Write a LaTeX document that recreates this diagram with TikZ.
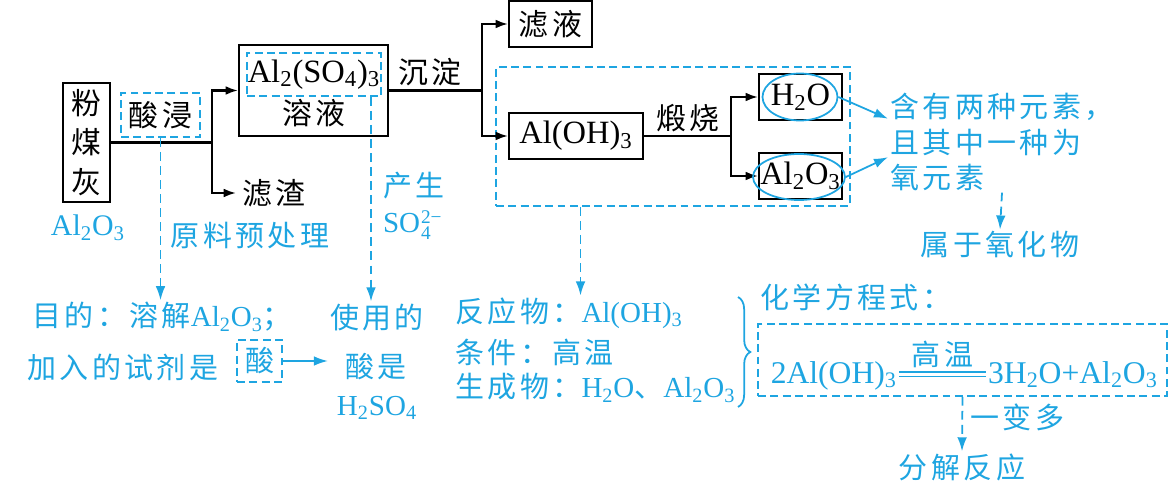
\documentclass[tikz,border=0pt]{standalone}
\usepackage{fontspec}
\setmainfont{Noto Sans CJK SC}[LetterSpace=12]
\newfontfamily\tms{Liberation Serif}
\usetikzlibrary{arrows.meta, positioning, calc, shapes.geometric, decorations.pathreplacing}
\definecolor{noteBlue}{RGB}{30,165,225}
\newcommand{\fm}[1]{{\tms #1}}
\newcommand{\dn}[1]{\textsubscript{#1}}

\begin{document}
\begin{tikzpicture}[x=0.02cm, y=-0.02cm,
    box/.style={draw, line width=1.2pt, inner sep=0pt},
    dbox/.style={draw=noteBlue, line width=1pt, dash pattern=on 4.5pt off 2.5pt, inner sep=0pt},
    hz/.style={font=\fontsize{17}{20}\selectfont},
    fx/.style={font=\fontsize{18.5}{22}\selectfont\tms},
    note/.style={text=noteBlue, font=\fontsize{16.5}{20}\selectfont, inner sep=1pt},
    arr/.style={line width=1.2pt, -{Latex[length=7pt,width=5pt]}},
    barr/.style={noteBlue, line width=1pt, -{Latex[length=8pt,width=5.5pt]}},
    dbarr/.style={barr, dash pattern=on 5pt off 3pt}]
    \useasboundingbox (0,0) rectangle (1173,496);
    % Flow: fly ash -> acid leaching
    \node[box, minimum width=0.94cm, minimum height=2.38cm, align=center, font=\fontsize{17}{22.5}\selectfont] (fmh) at (86.5,142.5) {粉\\煤\\灰};
    \node[dbox, hz, minimum width=1.58cm, minimum height=0.88cm] (sj) at (160.5,115) {酸浸};
    \node[box, minimum width=2.98cm, minimum height=1.82cm] (als) at (313.5,90.5) {};
    \node[dbox, fx, minimum width=2.68cm, minimum height=0.86cm] (alf) at (314,74.5) {Al\dn{2}(SO\dn{4})\dn{3}};
    \node[hz] (ry) at (314,113) {溶液};
    \node[hz, anchor=west] (lz) at (236,193) {滤渣};
    \coordinate (s1) at (212,142.5);
    \draw[line width=1.2pt] (fmh.east) -- (s1);
    \draw[arr] (s1) |- (als.west);
    \draw[arr] (s1) |- (lz.west);
    % Precipitation
    \node[hz] (cd) at (430,72) {沉淀};
    \node[box, hz, minimum width=1.66cm, minimum height=0.92cm] (ly) at (550.5,24) {滤液};
    \node[dbox, minimum width=7.08cm, minimum height=2.78cm] (big) at (673,136.5) {};
    \node[box, fx, minimum width=2.68cm, minimum height=0.92cm] (aoh) at (576,136) {Al(OH)\dn{3}};
    \coordinate (s2) at (482,90.5);
    \draw[line width=1.2pt] (als.east) -- (s2);
    \draw[arr] (s2) |- (ly.west);
    \draw[arr] (s2) |- (aoh.west);
    % Calcination
    \node[hz] (ds) at (688,118) {煅烧};
    \node[box, fx, minimum width=1.66cm, minimum height=0.92cm] (h2o) at (800.5,97) {H\dn{2}O};
    \node[box, fx, minimum width=1.66cm, minimum height=0.92cm] (alo) at (800.5,176) {Al\dn{2}O\dn{3}};
    \coordinate (s3) at (731,136);
    \draw[line width=1.2pt] (aoh.east) -- (s3);
    \draw[arr] (s3) |- (h2o.west);
    \draw[arr] (s3) |- (alo.west);
    \node[ellipse, draw=noteBlue, line width=1pt, minimum width=1.5cm, minimum height=0.94cm] (e1) at (800,97) {};
    \node[ellipse, draw=noteBlue, line width=1pt, minimum width=1.84cm, minimum height=0.92cm] (e2) at (799,177) {};
    % Notes on the right
    \node[note, anchor=west, align=left] (hy) at (888,142) {含有两种元素，\\且其中一种为\\氧元素};
    \draw[barr] (e1.east) -- ($(hy.north west)!0.27!(hy.south west)$);
    \draw[barr] (e2.east) -- ($(hy.north west)!0.65!(hy.south west)$);
    \node[note] (syh) at (1000,245) {属于氧化物};
    \draw[dbarr] (hy.south) -- (syh.north);
    % Notes on the left
    \node[note, font=\fontsize{17}{20}\selectfont\tms] (ao) at (88,228) {Al\dn{2}O\dn{3}};
    \node[note] (yl) at (250,236) {原料预处理};
    \node[note, anchor=west] (cs1) at (381,186) {产生};
    \node[note, anchor=west] (cs2) at (381,228) {\fm{SO\hspace{0.5pt}{\fontsize{11}{11}\selectfont\begin{tabular}{@{}l@{}}2−\\[-2pt]4\end{tabular}}}};
    \node[note, anchor=west] (md1) at (30,317) {目的：溶解\fm{Al\dn{2}O\dn{3}}；};
    \node[note, anchor=west] (md2) at (25,367) {加入的试剂是};
    \node[dbox, note, minimum width=0.9cm, minimum height=0.84cm] (suan) at (259.5,361) {酸};
    \node[note] (sy1) at (377,317) {使用的};
    \node[note] (sy2) at (376,367) {酸是};
    \node[note] (sy3) at (377,408) {\fm{H\dn{2}SO\dn{4}}};
    \draw[dbarr] (sj.south) -- (sj.south |- md1.north);
    \coordinate (d2) at ($(alf.south west)!0.92!(alf.south east)$);
    \draw[dbarr] (d2) -- (d2 |- sy1.north);
    \draw[barr] (suan.east) -- (suan.east -| sy1.west);
    % Reaction summary
    \node[note, anchor=west] (fy1) at (453,313) {反应物：\fm{Al(OH)\dn{3}}};
    \node[note, anchor=west] (fy2) at (453,352) {条件：高温};
    \node[note, anchor=west] (fy3) at (453,388) {生成物：\fm{H\dn{2}O}、\fm{Al\dn{2}O\dn{3}}};
    \coordinate (d3) at ($(big.south west)!0.24!(big.south east)$);
    \draw[dbarr] (d3) -- (d3 |- fy1.north);
    \draw[noteBlue, line width=1pt, decorate, decoration={brace, amplitude=7pt}] (738,297) -- (738,407);
    % Equation
    \node[note, anchor=west] (hx) at (758,297) {化学方程式：};
    \node[dbox, minimum width=8.18cm, minimum height=1.44cm] (eqb) at (962.5,360) {};
    \node[note, anchor=base east, font=\fontsize{18}{22}\selectfont\tms] (eq1) at (899,383) {2Al(OH)\dn{3}};
    \node[note, anchor=base west, font=\fontsize{18}{22}\selectfont\tms] (eq2) at (986,383) {3H\dn{2}O+Al\dn{2}O\dn{3}};
    \draw[noteBlue, line width=0.9pt, double distance=1.5pt] ([yshift=5pt]eq1.base east) -- ([yshift=5pt]eq2.base west) node[midway, above=2pt, note] (gw) {高温};
    \node[note, anchor=west] (ybd) at (968,417) {一变多};
    \node[note] (fj) at (962,467) {分解反应};
    \draw[dbarr] (eqb.south) -- (fj.north);
\end{tikzpicture}
\end{document}
